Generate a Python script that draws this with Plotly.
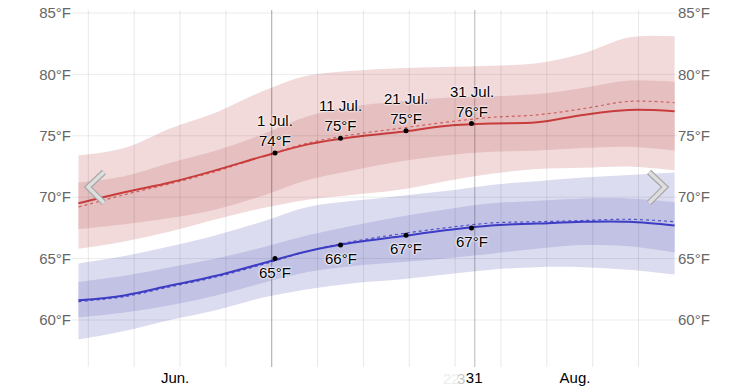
import plotly.graph_objects as go

# ---- data (day index: 0 = 1 Jun, 91 = 31 Aug) ----
days = [0, 7, 14, 21, 28, 35, 42, 49, 56, 63, 70, 77, 84, 91]

high_p90 = [73.4, 74.0, 75.6, 76.9, 78.6, 79.9, 80.3, 80.5, 80.6, 80.7, 80.9, 81.7, 83.0, 83.1]
high_p75 = [71.2, 71.7, 72.8, 73.8, 75.1, 76.6, 77.4, 77.8, 78.1, 78.2, 78.4, 78.9, 79.5, 79.4]
high_avg = [69.5, 70.4, 71.2, 72.2, 73.3, 74.3, 74.9, 75.3, 75.8, 76.0, 76.1, 76.7, 77.1, 77.0]
high_avg_prev = [69.2, 70.2, 71.1, 72.1, 73.3, 74.4, 75.1, 75.6, 76.1, 76.5, 76.7, 77.2, 77.8, 77.7]
high_p25 = [67.4, 67.8, 68.3, 69.0, 70.1, 71.4, 72.2, 72.9, 73.4, 73.7, 73.8, 74.0, 74.1, 73.8]
high_p10 = [65.8, 66.4, 67.2, 68.2, 69.1, 69.8, 70.2, 70.6, 71.3, 71.9, 72.3, 72.4, 72.5, 72.2]

low_p90 = [64.6, 65.2, 66.0, 66.9, 68.0, 69.2, 69.7, 70.1, 70.5, 71.0, 71.3, 71.6, 71.8, 72.0]
low_p75 = [63.1, 63.6, 64.3, 65.0, 65.9, 66.9, 67.7, 68.4, 69.0, 69.5, 69.7, 69.9, 69.9, 69.6]
low_avg = [61.6, 62.0, 62.8, 63.6, 64.6, 65.6, 66.3, 66.8, 67.3, 67.7, 67.85, 68.0, 68.0, 67.7]
low_avg_prev = [61.5, 61.9, 62.7, 63.5, 64.5, 65.6, 66.4, 67.0, 67.5, 67.9, 68.0, 68.1, 68.2, 68.0]
low_p25 = [60.2, 60.6, 61.2, 62.0, 63.0, 63.9, 64.4, 64.7, 65.0, 65.4, 65.8, 66.1, 66.0, 65.5]
low_p10 = [58.4, 59.1, 60.0, 60.8, 61.8, 62.5, 63.0, 63.3, 63.7, 64.1, 64.3, 64.3, 64.1, 63.7]

mark_days = [30, 40, 50, 60]
mark_dates = ["1 Jul.", "11 Jul.", "21 Jul.", "31 Jul."]
mark_high = [73.6, 74.8, 75.4, 76.0]
mark_high_lbl = [74, 75, 75, 76]
mark_low = [65.0, 66.1, 66.9, 67.5]
mark_low_lbl = [65, 66, 67, 67]

y_ticks = [60, 65, 70, 75, 80, 85]
y_tick_text = [f"{v}°F" for v in y_ticks]
x_tick_vals = [14.75, 60.4, 75.8]
x_tick_text = ["Jun.", "31", "Aug."]
week_lines = [1.5 + 7 * k for k in range(13)]
month_lines = [29.5, 60.5]

# ---- layout constants ----
W, H = 753, 387
ML, MR, MT, MB = 72, 76, 10, 20
XR = [-0.99, 91.37]
YR = [56.17, 85.244]
FONT = "Liberation Sans, Arial, Helvetica, sans-serif"

fig = go.Figure()

def band(upper, lower, color):
    fig.add_trace(go.Scatter(x=days, y=upper, mode="lines", line=dict(width=0, shape="spline"),
                             hoverinfo="skip", showlegend=False))
    fig.add_trace(go.Scatter(x=days, y=lower, mode="lines", line=dict(width=0, shape="spline"),
                             fill="tonexty", fillcolor=color, hoverinfo="skip", showlegend=False))

band(high_p90, high_p10, "#f2dadb")
band(high_p75, high_p25, "#e6bfc0")
band(low_p90, low_p10, "#dcdcf1")
band(low_p75, low_p25, "#c2c2e5")

fig.add_trace(go.Scatter(x=days, y=high_avg_prev, mode="lines",
                         line=dict(color="#d06060", width=1.2, dash="dot", shape="spline"), showlegend=False))
fig.add_trace(go.Scatter(x=days, y=low_avg_prev, mode="lines",
                         line=dict(color="#5050c8", width=1.2, dash="dot", shape="spline"), showlegend=False))
fig.add_trace(go.Scatter(x=days, y=high_avg, mode="lines",
                         line=dict(color="#c83c3c", width=2, shape="spline"), showlegend=False))
fig.add_trace(go.Scatter(x=days, y=low_avg, mode="lines",
                         line=dict(color="#3c3cc4", width=2, shape="spline"), showlegend=False))
fig.add_trace(go.Scatter(x=mark_days, y=mark_high, mode="markers",
                         marker=dict(color="black", size=5), showlegend=False))
fig.add_trace(go.Scatter(x=mark_days, y=mark_low, mode="markers",
                         marker=dict(color="black", size=5), showlegend=False))

halo = "0 0 2px white, 0 0 2px white, 0 0 3px white"
for d, lbl, yv, t in zip(mark_days, mark_dates, mark_high, mark_high_lbl):
    fig.add_annotation(x=d, y=yv, text=f"{lbl}<br>{t}°F", showarrow=False, yanchor="bottom",
                       yshift=2, font=dict(family=FONT, size=15, color="black", shadow=halo))
for d, yv, t in zip(mark_days, mark_low, mark_low_lbl):
    fig.add_annotation(x=d, y=yv, text=f"{t}°F", showarrow=False, yanchor="top",
                       yshift=-3, font=dict(family=FONT, size=15, color="black", shadow=halo))

# faded remnants next to the "31" tick label
fig.add_annotation(x=(451 - ML) / (W - ML - MR), xref="paper", y=0, yref="paper",
                   yanchor="top", yshift=-1, text="22", showarrow=False,
                   font=dict(family=FONT, size=15, color="#ececec"))
fig.add_annotation(x=(461 - ML) / (W - ML - MR), xref="paper", y=0, yref="paper",
                   yanchor="top", yshift=-1, text="3", showarrow=False,
                   font=dict(family=FONT, size=15, color="#c8c8c8"))

# grid lines (drawn above the bands)
for v in y_ticks:
    fig.add_shape(type="line", xref="paper", x0=0, x1=1, yref="y", y0=v, y1=v,
                  line=dict(color="rgba(0,0,0,0.08)", width=1), layer="above")
for d in week_lines:
    fig.add_shape(type="line", xref="x", x0=d, x1=d, yref="paper", y0=0, y1=1,
                  line=dict(color="rgba(0,0,0,0.09)", width=1), layer="above")
for d in month_lines:
    fig.add_shape(type="line", xref="x", x0=d, x1=d, yref="paper", y0=0, y1=1,
                  line=dict(color="rgba(0,0,0,0.28)", width=1), layer="above")

# navigation chevrons
def px(xp, yp):
    return (xp - ML) / (W - ML - MR), (H - MB - yp) / (H - MT - MB)

def chevron(pts):
    coords = [px(*p) for p in pts]
    path = "M {} {} L {} {} L {} {}".format(*[c for xy in coords for c in xy])
    fig.add_shape(type="path", path=path, xref="paper", yref="paper",
                  line=dict(color="#a8a8a8", width=6), layer="above")
    fig.add_shape(type="path", path=path, xref="paper", yref="paper",
                  line=dict(color="#dedede", width=3.5), layer="above")

chevron([(104, 172), (88, 187), (104, 203)])
chevron([(649, 172), (665, 187), (649, 203)])

fig.update_layout(
    template="none",
    width=W, height=H, margin=dict(l=ML, r=MR, t=MT, b=MB, autoexpand=False),
    paper_bgcolor="white", plot_bgcolor="white",
    font=dict(family=FONT),
    xaxis=dict(range=XR, showgrid=False, zeroline=False, showline=False, automargin=False,
               tickvals=x_tick_vals, ticktext=x_tick_text, ticks="",
               tickfont=dict(size=15, color="black", family=FONT)),
    yaxis=dict(range=YR, showgrid=False, zeroline=False, showline=False, automargin=False,
               tickvals=y_ticks, ticktext=y_tick_text, ticks="",
               tickfont=dict(size=15, color="#666666", family=FONT)),
    yaxis2=dict(range=YR, overlaying="y", side="right", showgrid=False, zeroline=False,
                showline=False, automargin=False, tickvals=y_ticks, ticktext=y_tick_text, ticks="",
                tickfont=dict(size=15, color="#666666", family=FONT)),
)
# invisible trace so the right axis is drawn
fig.add_trace(go.Scatter(x=[0], y=[70], yaxis="y2", mode="markers",
                         marker=dict(opacity=0), hoverinfo="skip", showlegend=False))

fig.write_html("out.html", config={"displayModeBar": False},
               post_script="document.body.style.margin='0';document.body.style.overflow='hidden';")
